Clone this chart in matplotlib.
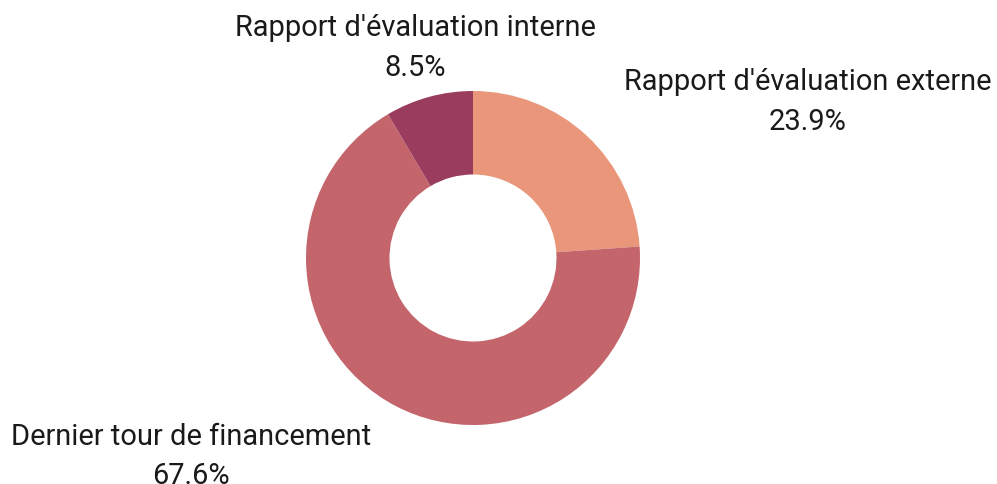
import matplotlib
matplotlib.use("Agg")
import matplotlib.pyplot as plt

categories = ["Rapport d'évaluation externe", "Dernier tour de financement", "Rapport d'évaluation interne"]
shares = [23.9, 67.6, 8.5]
colors = ["#E9967A", "#C4656B", "#9A3C5E"]

plt.rcParams['font.family'] = ['Roboto', 'DejaVu Sans']

W, H = 997, 484
fig = plt.figure(figsize=(W / 100, H / 100), dpi=100)

cx, cy, r = 473, 258, 167
ax = fig.add_axes([(cx - r) / W, (H - cy - r) / H, 2 * r / W, 2 * r / H])
ax.pie(shares, colors=colors, startangle=90, counterclock=False,
       radius=1.0, wedgeprops=dict(width=0.5, linewidth=0))
ax.set_xlim(-1, 1)
ax.set_ylim(-1, 1)
ax.set_aspect('equal')
ax.axis('off')

# label anchor: horizontal center and first-line baseline, in pixels from top-left
label_pos = [(808, 90), (191, 445), (415, 36)]
line_gap = 39.5
for name, val, (px, py) in zip(categories, shares, label_pos):
    for i, line in enumerate([name, f"{val}%"]):
        fig.text(px / W, 1 - (py + i * line_gap) / H, line, ha='center',
                 va='baseline', fontsize=20.9, color='#1a1a1a')

fig.savefig("out.png", dpi=100)
